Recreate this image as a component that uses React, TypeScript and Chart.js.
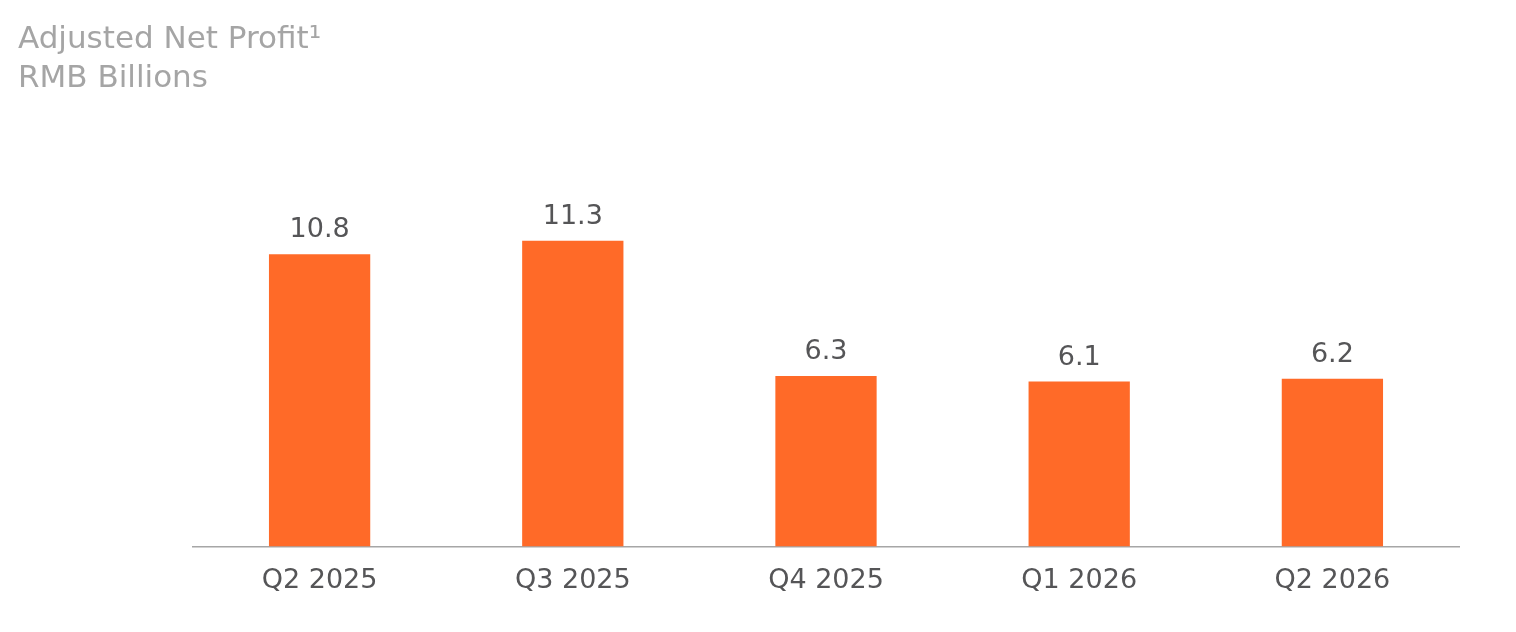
import React, { useEffect, useRef } from "react";
import { Chart, registerables } from "chart.js";

Chart.register(...registerables);

const categories: string[] = ["Q2 2025", "Q3 2025", "Q4 2025", "Q1 2026", "Q2 2026"];
const values: number[] = [10.8, 11.3, 6.3, 6.1, 6.2];
const titleLines: string[] = ["Adjusted Net Profit¹", "RMB Billions"];

const FONT = "'DejaVu Sans', sans-serif";
const BAR_COLOR = "#ff6a28";
const LABEL_COLOR = "#555557";
const TITLE_COLOR = "#a5a5a5";
const AXIS_COLOR = "#a6a6a6";

const valueLabelPlugin = {
  id: "valueLabels",
  afterDatasetsDraw(chart: any) {
    const ctx = chart.ctx;
    const meta = chart.getDatasetMeta(0);
    ctx.save();
    ctx.font = `27px ${FONT}`;
    ctx.fillStyle = LABEL_COLOR;
    ctx.textAlign = "center";
    ctx.textBaseline = "alphabetic";
    meta.data.forEach((bar: any, i: number) => {
      const v = chart.data.datasets[0].data[i] as number;
      ctx.fillText(v.toFixed(1), bar.x, bar.y - 17);
    });
    ctx.restore();
  },
};

export default function App() {
  const canvasRef = useRef<HTMLCanvasElement | null>(null);

  useEffect(() => {
    document.body.style.margin = "0";
    const canvas = canvasRef.current;
    if (!canvas) return;
    const chart = new Chart(canvas, {
      type: "bar",
      data: {
        labels: categories,
        datasets: [
          {
            data: values,
            backgroundColor: BAR_COLOR,
            borderWidth: 0,
            barPercentage: 0.4,
            categoryPercentage: 1,
          },
        ],
      },
      options: {
        animation: false,
        responsive: false,
        devicePixelRatio: 1,
        layout: { padding: { left: 18, right: 57, top: 0, bottom: 17 } },
        plugins: {
          legend: { display: false },
          tooltip: { enabled: false },
          title: {
            display: true,
            text: titleLines,
            align: "start",
            color: TITLE_COLOR,
            font: { family: FONT, size: 31, weight: "normal", lineHeight: 1.27 },
            padding: { top: 20, bottom: 69 },
          },
        },
        scales: {
          x: {
            grid: { display: false, drawTicks: false },
            border: { display: true, color: AXIS_COLOR, width: 1.5 },
            ticks: {
              color: LABEL_COLOR,
              font: { family: FONT, size: 27, lineHeight: 1.2 },
              padding: 18,
            },
          },
          y: {
            display: true,
            min: 0,
            max: 14,
            grid: { display: false, drawTicks: false },
            border: { display: false },
            ticks: { display: false },
            afterFit: (scale: any) => {
              scale.width = 175;
            },
          },
        },
      },
      plugins: [valueLabelPlugin],
    });
    return () => chart.destroy();
  }, []);

  return (
    <div style={{ width: 1516, height: 632 }}>
      <canvas ref={canvasRef} width={1516} height={632} style={{ display: "block" }} />
    </div>
  );
}
